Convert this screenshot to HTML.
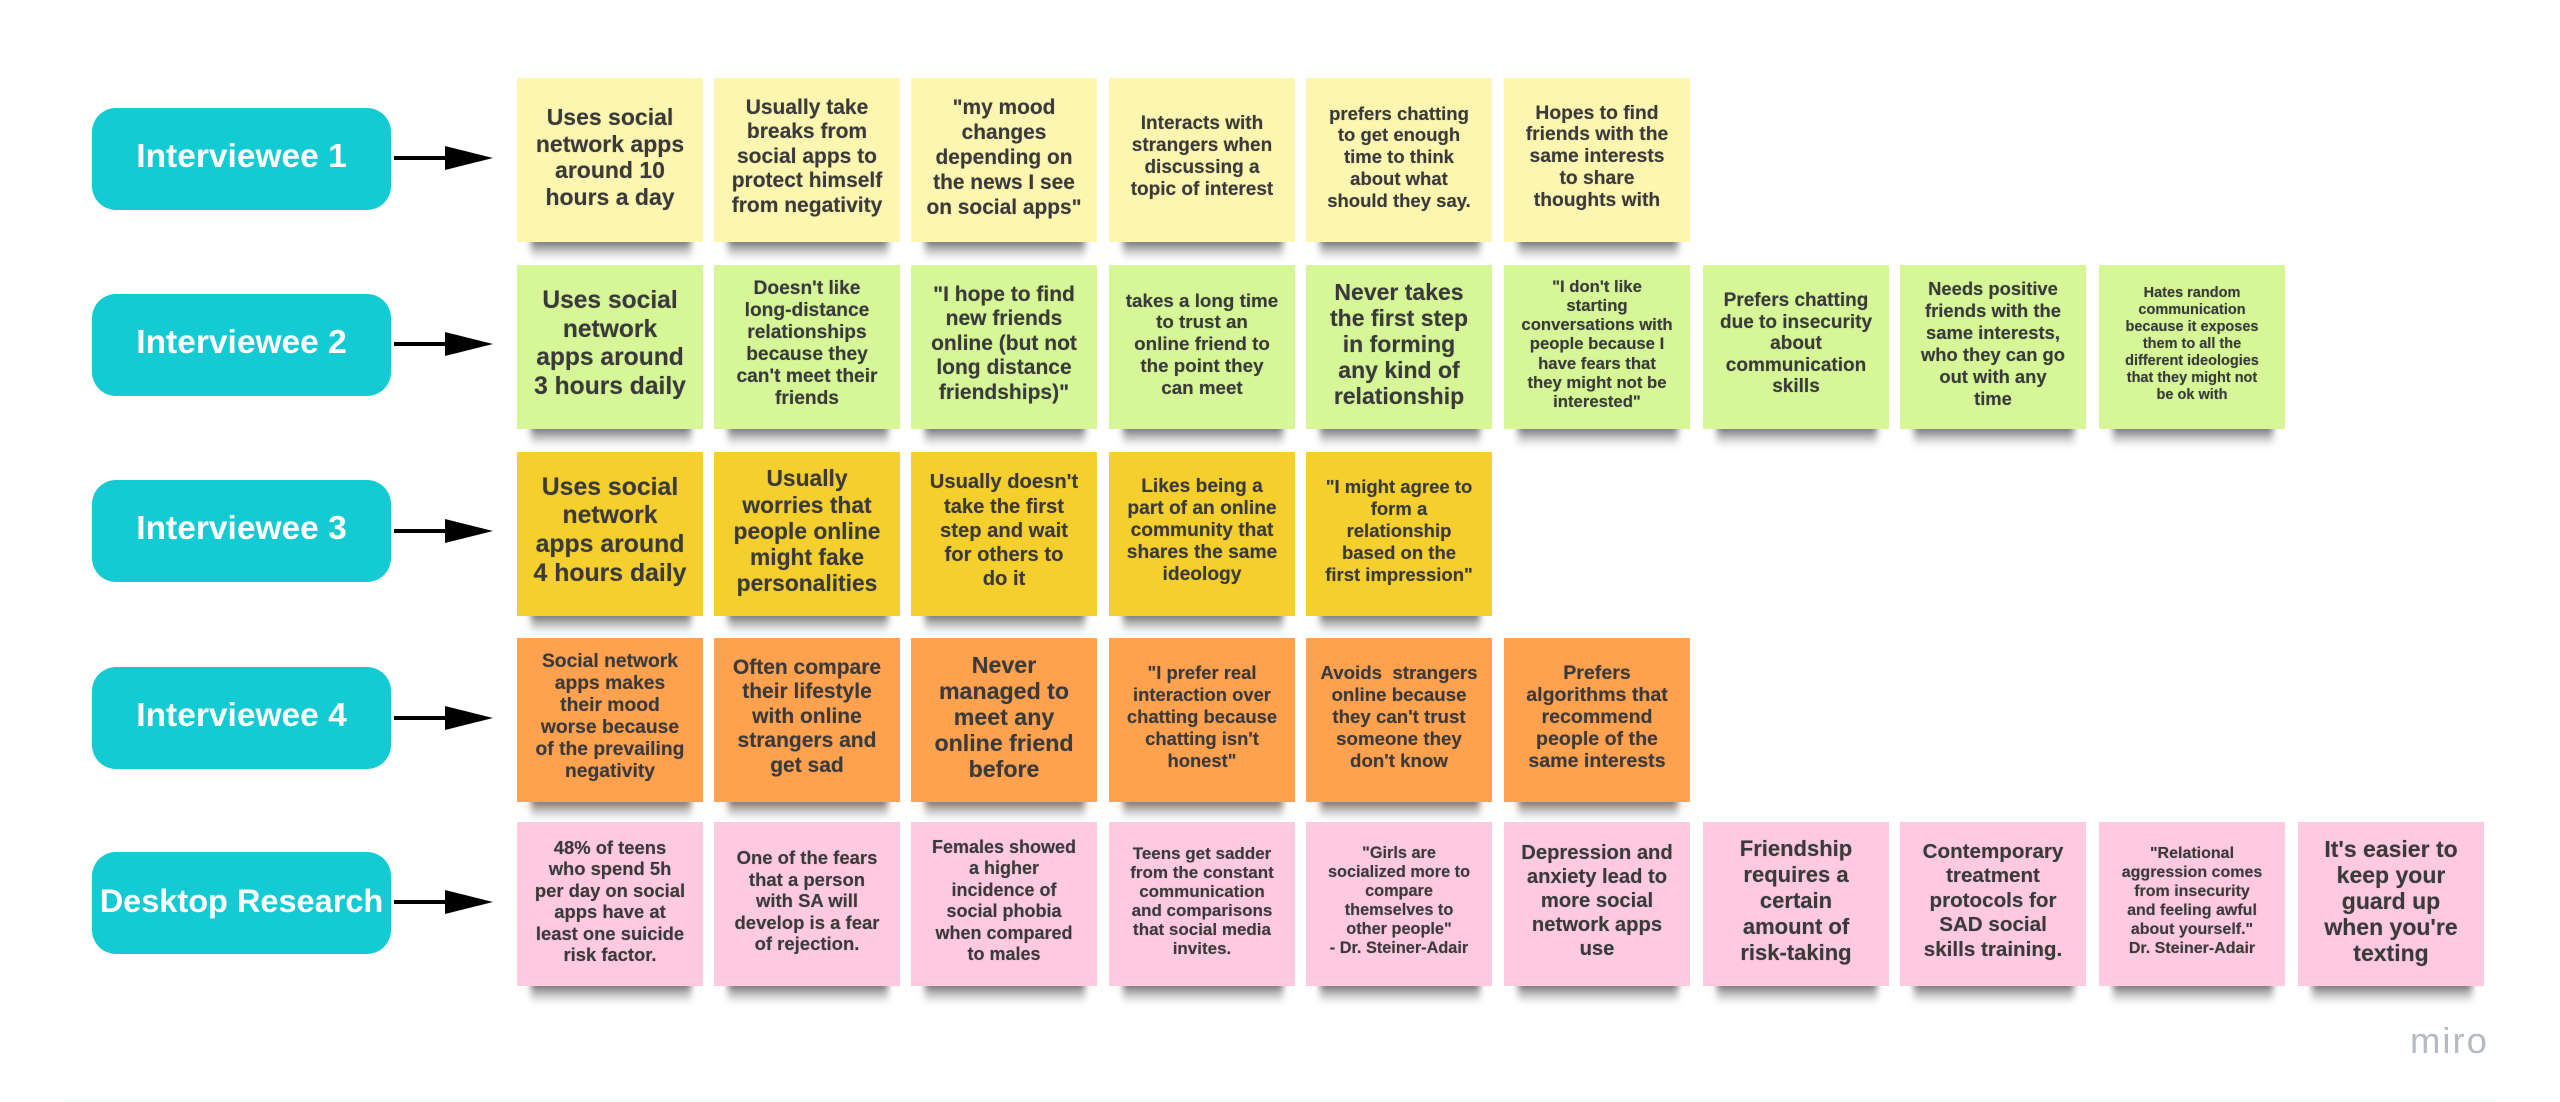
<!DOCTYPE html>
<html><head><meta charset="utf-8"><style>
html{margin:0;padding:0;background:#fff}
body{margin:0;padding:0;width:2560px;height:1102px;position:relative;overflow:hidden;font-family:"Liberation Sans",sans-serif}
.n{position:absolute;width:186px;height:164px;display:flex;align-items:center;justify-content:center;text-align:center;font-weight:700;color:#3a3a3a;padding-bottom:6px;box-sizing:border-box;white-space:pre;text-shadow:0 0 1px rgba(60,60,60,.45)}
.n::before{content:"";position:absolute;left:14px;right:12px;bottom:-17px;height:22px;background:linear-gradient(rgba(40,40,40,.85),rgba(40,40,40,.35) 50%,rgba(40,40,40,0));filter:blur(3.5px);z-index:-1}
.r1{top:78px;background:#fdf6b1}.r2{top:265px;background:#d6f698}.r3{top:452px;background:#f5cf2d}.r4{top:638px;background:#ffa250}.r5{top:822px;background:#fdcadf}
.c1{left:517px}.c2{left:714px}.c3{left:911px}.c4{left:1109px}.c5{left:1306px}.c6{left:1504px}.c7{left:1703px}.c8{left:1900px}.c9{left:2099px}.c10{left:2298px}
.p{position:absolute;left:92px;width:299px;height:102px;border-radius:24px;background:#14cad3;color:#fff;font-weight:700;font-size:33.5px;display:flex;align-items:center;justify-content:center;white-space:nowrap;padding-bottom:4px;box-sizing:border-box}
svg{position:absolute;left:0;top:0}
.m{position:absolute;left:2410px;top:1022px;font-size:36.5px;color:#b6bbc1;letter-spacing:2px;line-height:38px}
.b{position:absolute;left:65px;top:1099px;width:2430px;height:2px;background:#eafafa}
</style></head><body>
<div class="p" style="top:108px">Interviewee 1</div>
<div class="p" style="top:294px">Interviewee 2</div>
<div class="p" style="top:480px">Interviewee 3</div>
<div class="p" style="top:667px">Interviewee 4</div>
<div class="p" style="top:852px;font-size:32.5px">Desktop Research</div>
<svg width="2560" height="1102" fill="#000" stroke="none">
<rect x="394" y="156" width="52" height="4"/><polygon points="445,146 493,158 445,170"/>
<rect x="394" y="342" width="52" height="4"/><polygon points="445,332 493,344 445,356"/>
<rect x="394" y="529" width="52" height="4"/><polygon points="445,519 493,531 445,543"/>
<rect x="394" y="716" width="52" height="4"/><polygon points="445,706 493,718 445,730"/>
<rect x="394" y="900" width="52" height="4"/><polygon points="445,890 493,902 445,914"/>
</svg>

<div class="n r1 c1" style="font-size:23px;line-height:26.5px">Uses social<br>network apps<br>around 10<br>hours a day</div>
<div class="n r1 c2" style="font-size:21px;line-height:24.5px">Usually take<br>breaks from<br>social apps to<br>protect himself<br>from negativity</div>
<div class="n r1 c3" style="font-size:20.9px;line-height:25px">"my mood<br>changes<br>depending on<br>the news I see<br>on social apps"</div>
<div class="n r1 c4" style="font-size:19px;line-height:22px">Interacts with<br>strangers when<br>discussing a<br>topic of interest</div>
<div class="n r1 c5" style="font-size:18.5px;line-height:21.7px">prefers chatting<br>to get enough<br>time to think<br>about what<br>should they say.</div>
<div class="n r1 c6" style="font-size:19.3px;line-height:21.7px">Hopes to find<br>friends with the<br>same interests<br>to share<br>thoughts with</div>

<div class="n r2 c1" style="font-size:24.6px;line-height:28.5px">Uses social<br>network<br>apps around<br>3 hours daily</div>
<div class="n r2 c2" style="font-size:19.2px;line-height:22px">Doesn't like<br>long-distance<br>relationships<br>because they<br>can't meet their<br>friends</div>
<div class="n r2 c3" style="font-size:21px;line-height:24.5px">"I hope to find<br>new friends<br>online (but not<br>long distance<br>friendships)"</div>
<div class="n r2 c4" style="font-size:18.8px;line-height:21.7px">takes a long time<br>to trust an<br>online friend to<br>the point they<br>can meet</div>
<div class="n r2 c5" style="font-size:23px;line-height:26px">Never takes<br>the first step<br>in forming<br>any kind of<br>relationship</div>
<div class="n r2 c6" style="font-size:16.7px;line-height:19.2px">"I don't like<br>starting<br>conversations with<br>people because I<br>have fears that<br>they might not be<br>interested"</div>
<div class="n r2 c7" style="font-size:19px;line-height:21.5px">Prefers chatting<br>due to insecurity<br>about<br>communication<br>skills</div>
<div class="n r2 c8" style="font-size:18.4px;line-height:22px">Needs positive<br>friends with the<br>same interests,<br>who they can go<br>out with any<br>time</div>
<div class="n r2 c9" style="font-size:14.5px;line-height:17px">Hates random<br>communication<br>because it exposes<br>them to all the<br>different ideologies<br>that they might not<br>be ok with</div>

<div class="n r3 c1" style="font-size:24.8px;line-height:28.6px">Uses social<br>network<br>apps around<br>4 hours daily</div>
<div class="n r3 c2" style="font-size:22.8px;line-height:26.2px">Usually<br>worries that<br>people online<br>might fake<br>personalities</div>
<div class="n r3 c3" style="font-size:20.2px;line-height:24.3px">Usually doesn't<br>take the first<br>step and wait<br>for others to<br>do it</div>
<div class="n r3 c4" style="font-size:19.2px;line-height:22px">Likes being a<br>part of an online<br>community that<br>shares the same<br>ideology</div>
<div class="n r3 c5" style="font-size:18.5px;line-height:22px">"I might agree to<br>form a<br>relationship<br>based on the<br>first impression"</div>

<div class="n r4 c1" style="font-size:19.3px;line-height:22px">Social network<br>apps makes<br>their mood<br>worse because<br>of the prevailing<br>negativity</div>
<div class="n r4 c2" style="font-size:21px;line-height:24.4px">Often compare<br>their lifestyle<br>with online<br>strangers and<br>get sad</div>
<div class="n r4 c3" style="font-size:23.2px;line-height:26px">Never<br>managed to<br>meet any<br>online friend<br>before</div>
<div class="n r4 c4" style="font-size:18.4px;line-height:22px">"I prefer real<br>interaction over<br>chatting because<br>chatting isn't<br>honest"</div>
<div class="n r4 c5" style="font-size:18.7px;line-height:22px">Avoids  strangers<br>online because<br>they can't trust<br>someone they<br>don't know</div>
<div class="n r4 c6" style="font-size:19.6px;line-height:22px">Prefers<br>algorithms that<br>recommend<br>people of the<br>same interests</div>

<div class="n r5 c1" style="font-size:18.4px;line-height:21.5px">48% of teens<br>who spend 5h<br>per day on social<br>apps have at<br>least one suicide<br>risk factor.</div>
<div class="n r5 c2" style="font-size:18.5px;line-height:21.5px">One of the fears<br>that a person<br>with SA will<br>develop is a fear<br>of rejection.</div>
<div class="n r5 c3" style="font-size:18px;line-height:21.5px">Females showed<br>a higher<br>incidence of<br>social phobia<br>when compared<br>to males</div>
<div class="n r5 c4" style="font-size:17px;line-height:19px">Teens get sadder<br>from the constant<br>communication<br>and comparisons<br>that social media<br>invites.</div>
<div class="n r5 c5" style="font-size:16.3px;line-height:19px">"Girls are<br>socialized more to<br>compare<br>themselves to<br>other people"<br>- Dr. Steiner-Adair</div>
<div class="n r5 c6" style="font-size:20.2px;line-height:24px">Depression and<br>anxiety lead to<br>more social<br>network apps<br>use</div>
<div class="n r5 c7" style="font-size:22px;line-height:26px">Friendship<br>requires a<br>certain<br>amount of<br>risk-taking</div>
<div class="n r5 c8" style="font-size:20.6px;line-height:24.5px">Contemporary<br>treatment<br>protocols for<br>SAD social<br>skills training.</div>
<div class="n r5 c9" style="font-size:16px;line-height:19px">"Relational<br>aggression comes<br>from insecurity<br>and feeling awful<br>about yourself."<br>Dr. Steiner-Adair</div>
<div class="n r5 c10" style="font-size:23px;line-height:26px">It's easier to<br>keep your<br>guard up<br>when you're<br>texting</div>

<div class="m">miro</div>
<div class="b"></div>
</body></html>
